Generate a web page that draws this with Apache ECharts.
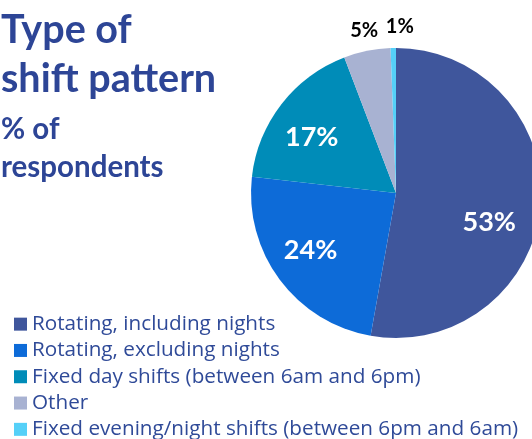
<!DOCTYPE html>
<html>
<head>
<meta charset="utf-8">
<script src="https://cdn.jsdelivr.net/npm/echarts@6/dist/echarts.min.js"></script>
<style>
html,body{margin:0;padding:0;background:#fff;}
#main{width:532px;height:439px;}
</style>
</head>
<body>
<div id="main"></div>
<script>
const categories = [
  'Rotating, including nights',
  'Rotating, excluding nights',
  'Fixed day shifts (between 6am and 6pm)',
  'Other',
  'Fixed evening/night shifts (between 6pm and 6am)'
];
const values = [52.8, 24.0, 17.4, 5.2, 0.6];
const titleLines = ['Type of', 'shift pattern'];
const subtitleLines = ['% of', 'respondents'];

// styling (not data)
const colors = ['#3F569C', '#0D6BD8', '#008CB8', '#A8B2D2', '#55D0F8'];
const labelNudge = [[-8, 20], [-4, -3], [-4, 7], [2, 3], [7, 3]];

const FONT = 'Lato, "Open Sans", sans-serif';
const CENTER = [396, 193];
const R = 145;
const total = values.reduce((a, b) => a + b, 0);
const pct = v => Math.round(v / total * 100) + '%';

const baseData = categories.map((n, i) => ({ name: n, value: values[i], itemStyle: { color: colors[i] } }));
const labelData = categories.map((n, i) => ({ name: n, value: values[i], label: { offset: labelNudge[i] } }));

const chart = echarts.init(document.getElementById('main'), null, { renderer: 'canvas' });
chart.setOption({
  animation: false,
  backgroundColor: '#fff',
  title: [
    {
      text: titleLines.join('\n'),
      left: 1, top: 6, padding: 0,
      textStyle: { fontFamily: FONT, fontWeight: 'bold', fontSize: 39.5, lineHeight: 49, color: '#2D4596' }
    },
    {
      text: subtitleLines.join('\n'),
      left: 1, top: 110, padding: 0,
      textStyle: { fontFamily: FONT, fontWeight: 'bold', fontSize: 29.5, lineHeight: 38, color: '#2D4596' }
    }
  ],
  legend: {
    orient: 'vertical',
    left: 14, top: 311, padding: 0,
    height: 150,
    itemWidth: 13, itemHeight: 13, itemGap: 0,
    icon: 'rect',
    data: categories,
    textStyle: { fontFamily: '"Open Sans", Lato, sans-serif', fontSize: 20.7, lineHeight: 26.3, color: '#2F4A98' }
  },
  series: [
    {
      type: 'pie',
      center: CENTER,
      radius: [0, R],
      startAngle: 90,
      clockwise: true,
      label: { show: false },
      labelLine: { show: false },
      itemStyle: { borderWidth: 0 },
      emphasis: { disabled: true },
      data: baseData
    },
    {
      type: 'pie',
      silent: true,
      center: CENTER,
      radius: [R * 0.36, R],
      startAngle: 90,
      clockwise: true,
      itemStyle: { color: 'rgba(0,0,0,0)' },
      labelLine: { show: false },
      emphasis: { disabled: true },
      label: {
        show: true, position: 'inside',
        fontFamily: FONT, fontWeight: 'bold', fontSize: 27, color: '#fff',
        formatter: p => p.value >= 10 ? pct(p.value) : ''
      },
      data: labelData
    },
    {
      type: 'pie',
      silent: true,
      center: CENTER,
      radius: [R + 5, R + 37],
      startAngle: 90,
      clockwise: true,
      itemStyle: { color: 'rgba(0,0,0,0)' },
      labelLine: { show: false },
      emphasis: { disabled: true },
      label: {
        show: true, position: 'inside',
        fontFamily: FONT, fontWeight: 'bold', fontSize: 20, color: '#000',
        formatter: p => p.value < 10 ? pct(p.value) : ''
      },
      data: labelData
    }
  ]
});
</script>
</body>
</html>
